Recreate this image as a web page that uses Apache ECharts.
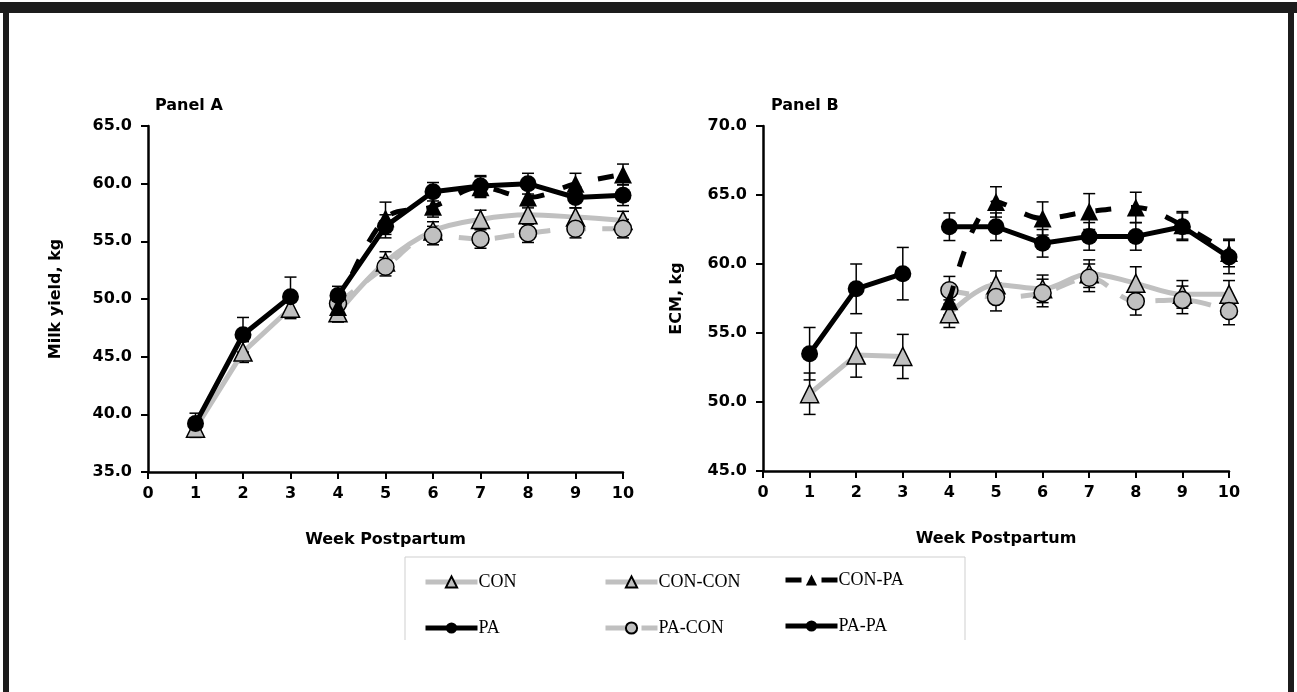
<!DOCTYPE html>
<html>
<head>
<meta charset="utf-8">
<script src="https://cdn.jsdelivr.net/npm/echarts@6/dist/echarts.min.js"></script>
<style>
html,body{margin:0;padding:0;background:#fff;}
#main{width:1297px;height:692px;}
</style>
</head>
<body>
<div id="main"></div>
<script>
// weeks
var weeksEarly = [1, 2, 3];
var weeksLate = [4, 5, 6, 7, 8, 9, 10];

// Panel A - milk yield, kg
var milkCON = [38.8, 45.4, 49.2];
var milkPA = [39.2, 46.9, 50.2];
var milkCONCON = [48.8, 53.2, 55.9, 56.9, 57.3, 57.1, 56.8];
var milkCONPA = [49.3, 57.0, 58.0, 59.7, 58.8, 60.0, 60.8];
var milkPACON = [49.6, 52.8, 55.5, 55.2, 55.7, 56.1, 56.1];
var milkPAPA = [50.3, 56.3, 59.3, 59.8, 60.0, 58.8, 59.0];
// standard errors, Panel A
var milkSE_CON = [0.8, 0.9, 0.9];
var milkSE_PA = [0.9, 1.5, 1.7];
var milkSE_CONCON = [0.8, 0.9, 0.8, 0.8, 0.8, 0.8, 0.8];
var milkSE_CONPA = [0.8, 1.4, 0.9, 0.9, 0.9, 0.9, 0.9];
var milkSE_PACON = [0.8, 0.8, 0.8, 0.8, 0.8, 0.8, 0.8];
var milkSE_PAPA = [0.8, 1.0, 0.8, 0.9, 0.9, 0.9, 0.9];

// Panel B - ECM, kg
var ecmCON = [50.6, 53.4, 53.3];
var ecmPA = [53.5, 58.2, 59.3];
var ecmCONCON = [56.4, 58.5, 58.2, 59.3, 58.6, 57.8, 57.8];
var ecmCONPA = [57.3, 64.5, 63.3, 63.8, 64.1, 62.8, 60.8];
var ecmPACON = [58.1, 57.6, 57.9, 59.0, 57.3, 57.4, 56.6];
var ecmPAPA = [62.7, 62.7, 61.5, 62.0, 62.0, 62.7, 60.5];
// standard errors, Panel B
var ecmSE_CON = [1.5, 1.6, 1.6];
var ecmSE_PA = [1.9, 1.8, 1.9];
var ecmSE_CONCON = [1.0, 1.0, 1.0, 1.0, 1.2, 1.0, 1.0];
var ecmSE_CONPA = [1.0, 1.1, 1.2, 1.3, 1.1, 1.0, 1.0];
var ecmSE_PACON = [1.0, 1.0, 1.0, 1.0, 1.0, 1.0, 1.0];
var ecmSE_PAPA = [1.0, 1.0, 1.0, 1.0, 1.0, 1.0, 1.2];

var yTicksA = [35, 65, 5];
var yTicksB = [45, 70, 5];

var GRAY = '#c0c0c0';
var BOLD = 'DejaVu Sans';

var looks = {
  'CON':     {color: GRAY,   symbol: 'triangle', type: 'solid',  smooth: false},
  'PA':      {color: '#000', symbol: 'circle',   type: 'solid',  smooth: false},
  'CON-CON': {color: GRAY,   symbol: 'triangle', type: 'solid',  smooth: true},
  'PA-CON':  {color: GRAY,   symbol: 'circle',   type: [20, 16], smooth: true},
  'CON-PA':  {color: '#000', symbol: 'triangle', type: [16, 20], smooth: true},
  'PA-PA':   {color: '#000', symbol: 'circle',   type: 'solid',  smooth: false}
};

function pairs(weeks, vals) {
  return weeks.map(function (w, i) { return [w, vals[i]]; });
}

function lineSeries(name, weeks, vals, idx) {
  var lk = looks[name];
  return {
    name: name,
    type: 'line',
    xAxisIndex: idx,
    yAxisIndex: idx,
    data: pairs(weeks, vals),
    smooth: lk.smooth ? 0.35 : false,
    symbol: lk.symbol,
    symbolSize: lk.symbol == 'triangle' ? 18 : 17,
    itemStyle: {color: lk.color, borderColor: '#000', borderWidth: lk.color == GRAY ? 1.5 : 0},
    lineStyle: {color: lk.color, width: 5, type: lk.type},
    z: lk.color == GRAY ? 3 : 4
  };
}

function errRows(weeks, vals, se) {
  return weeks.map(function (w, i) { return [w, vals[i] - se[i], vals[i] + se[i]]; });
}

function errorItem(params, api) {
  var x = api.value(0);
  var top = api.coord([x, api.value(2)]);
  var bot = api.coord([x, api.value(1)]);
  var w = 6;
  var st = {stroke: '#000', lineWidth: 1.5};
  return {
    type: 'group',
    children: [
      {type: 'line', shape: {x1: top[0], y1: top[1], x2: bot[0], y2: bot[1]}, style: st},
      {type: 'line', shape: {x1: top[0] - w, y1: top[1], x2: top[0] + w, y2: top[1]}, style: st},
      {type: 'line', shape: {x1: bot[0] - w, y1: bot[1], x2: bot[0] + w, y2: bot[1]}, style: st}
    ]
  };
}

var errA = [].concat(
  errRows(weeksEarly, milkCON, milkSE_CON), errRows(weeksEarly, milkPA, milkSE_PA),
  errRows(weeksLate, milkCONCON, milkSE_CONCON), errRows(weeksLate, milkCONPA, milkSE_CONPA),
  errRows(weeksLate, milkPACON, milkSE_PACON), errRows(weeksLate, milkPAPA, milkSE_PAPA));
var errB = [].concat(
  errRows(weeksEarly, ecmCON, ecmSE_CON), errRows(weeksEarly, ecmPA, ecmSE_PA),
  errRows(weeksLate, ecmCONCON, ecmSE_CONCON), errRows(weeksLate, ecmCONPA, ecmSE_CONPA),
  errRows(weeksLate, ecmPACON, ecmSE_PACON), errRows(weeksLate, ecmPAPA, ecmSE_PAPA));

function xAxisCfg(idx) {
  return {
    type: 'value', gridIndex: idx, min: 0, max: 10, interval: 1,
    name: 'Week Postpartum', nameLocation: 'middle', nameGap: 60,
    nameTextStyle: {fontFamily: BOLD, fontWeight: 'bold', fontSize: 16, color: '#000'},
    axisLine: {onZero: false, lineStyle: {color: '#000', width: 2.5}},
    axisTick: {inside: false, length: 7, lineStyle: {color: '#000', width: 2}},
    axisLabel: {margin: 14, fontFamily: BOLD, fontWeight: 'bold', fontSize: 16, color: '#000'},
    splitLine: {show: false}
  };
}

function yAxisCfg(idx, ticks, name, gap) {
  return {
    type: 'value', gridIndex: idx, min: ticks[0], max: ticks[1], interval: ticks[2],
    name: name, nameLocation: 'middle', nameGap: gap, nameRotate: 90,
    nameTextStyle: {fontFamily: BOLD, fontWeight: 'bold', fontSize: 16, color: '#000'},
    axisLine: {show: true, lineStyle: {color: '#000', width: 2.5}},
    axisTick: {show: true, inside: false, length: 7, lineStyle: {color: '#000', width: 2}},
    axisLabel: {margin: 16, fontFamily: BOLD, fontWeight: 'bold', fontSize: 16, color: '#000',
      formatter: function (v) { return v.toFixed(1); }},
    splitLine: {show: false}
  };
}

function legendCol(names, left, top, gap) {
  return {
    data: names, orient: 'vertical', left: left, top: top, itemGap: gap,
    itemWidth: 52, itemHeight: 14, selectedMode: false,
    lineStyle: {width: 5},
    textStyle: {fontFamily: 'Liberation Serif', fontSize: 18, color: '#000', padding: [0, 0, 0, -4]}
  };
}

var chart = echarts.init(document.getElementById('main'));

var series = [
  lineSeries('CON', weeksEarly, milkCON, 0),
  lineSeries('PA', weeksEarly, milkPA, 0),
  lineSeries('CON-CON', weeksLate, milkCONCON, 0),
  lineSeries('PA-CON', weeksLate, milkPACON, 0),
  lineSeries('CON-PA', weeksLate, milkCONPA, 0),
  lineSeries('PA-PA', weeksLate, milkPAPA, 0),
  lineSeries('CON', weeksEarly, ecmCON, 1),
  lineSeries('PA', weeksEarly, ecmPA, 1),
  lineSeries('CON-CON', weeksLate, ecmCONCON, 1),
  lineSeries('PA-CON', weeksLate, ecmPACON, 1),
  lineSeries('CON-PA', weeksLate, ecmCONPA, 1),
  lineSeries('PA-PA', weeksLate, ecmPAPA, 1),
  {type: 'custom', xAxisIndex: 0, yAxisIndex: 0, renderItem: errorItem, data: errA,
   encode: {x: 0, y: [1, 2]}, z: 2, silent: true},
  {type: 'custom', xAxisIndex: 1, yAxisIndex: 1, renderItem: errorItem, data: errB,
   encode: {x: 0, y: [1, 2]}, z: 2, silent: true}
];

chart.setOption({
  backgroundColor: '#fff',
  animation: false,
  title: [
    {text: 'Panel A', left: 150, top: 93, textStyle: {fontFamily: BOLD, fontWeight: 'bold', fontSize: 16, color: '#000'}},
    {text: 'Panel B', left: 766, top: 93, textStyle: {fontFamily: BOLD, fontWeight: 'bold', fontSize: 16, color: '#000'}}
  ],
  grid: [
    {left: 148, top: 126, width: 475, height: 346},
    {left: 763, top: 126, width: 466, height: 345}
  ],
  xAxis: [xAxisCfg(0), xAxisCfg(1)],
  yAxis: [yAxisCfg(0, yTicksA, 'Milk yield, kg', 84), yAxisCfg(1, yTicksB, 'ECM, kg', 78)],
  legend: [
    legendCol(['CON', 'PA'], 418, 568, 28),
    legendCol(['CON-CON', 'PA-CON'], 598, 568, 28),
    legendCol(['CON-PA', 'PA-PA'], 778, 566, 28)
  ],
  graphic: [
    {type: 'polyline', shape: {points: [[405, 640], [405, 557], [965, 557], [965, 640]]},
     style: {stroke: '#cfcfcf', lineWidth: 1, fill: null}, silent: true},
    {type: 'rect', shape: {x: 0, y: 2, width: 1297, height: 11}, style: {fill: '#1c1c1c'}, silent: true},
    {type: 'rect', shape: {x: 3, y: 2, width: 6, height: 700}, style: {fill: '#1c1c1c'}, silent: true},
    {type: 'rect', shape: {x: 1288, y: 2, width: 6, height: 700}, style: {fill: '#1c1c1c'}, silent: true}
  ],
  series: series
});
</script>
</body>
</html>
